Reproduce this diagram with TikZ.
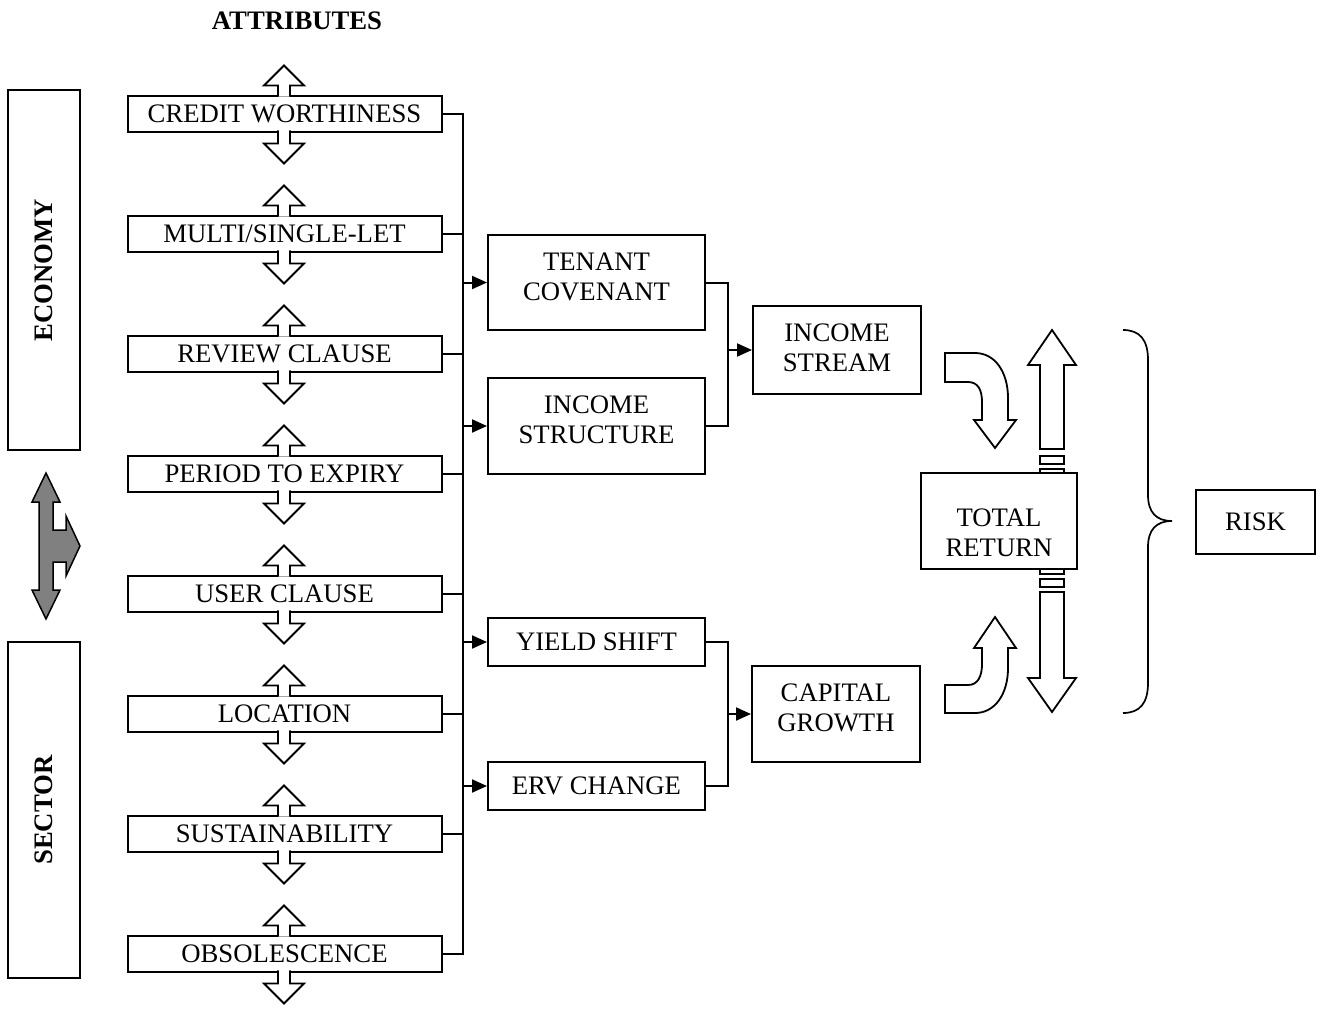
\documentclass[tikz,border=0pt]{standalone}
\usepackage{fontspec}
\setmainfont{Liberation Serif}
\usetikzlibrary{arrows.meta}
\newcommand\myfs{\fontsize{26.7}{30}\selectfont}
\definecolor{arrowgrey}{RGB}{128,128,128}
\begin{document}
\begin{tikzpicture}[x=1pt,y=-1pt,
  every node/.style={font=\myfs},
  box/.style={draw, line width=2pt, fill=white, inner sep=0pt, align=center},
  attr/.style={box, minimum width=314pt, minimum height=36pt},
  mid/.style={box, minimum width=217pt},
  side/.style={draw, line width=2pt, rotate=90, font=\myfs\bfseries, minimum height=72pt, inner sep=0pt},
  conn/.style={line width=2pt},
  arr/.style={conn, -{Triangle[length=15pt,width=13pt]}},
  hol/.style={draw, line width=1.8pt, fill=white, line join=miter}]
\useasboundingbox (0,0) rectangle (1319,1012);

\node[font=\myfs\bfseries] (attrtitle) at (297,21) {ATTRIBUTES};

\node[side, minimum width=360pt] (eco) at (44,270) {ECONOMY};
\node[side, minimum width=336pt] (sec) at (43.5,810) {SECTOR};

% grey double arrow
\draw[line width=1.5pt, fill=arrowgrey, line join=miter]
  (46,473) -- (60,502) -- (53,502) -- (53,530) -- (66,530) -- (66,516) -- (80,546)
  -- (66,576) -- (66,562) -- (53,562) -- (53,590) -- (60,590) -- (46,619)
  -- (32,590) -- (39,590) -- (39,502) -- (32,502) -- cycle;

% attribute boxes with hollow up/down arrows
\foreach \t [count=\i] in {CREDIT WORTHINESS, MULTI/SINGLE-LET, REVIEW CLAUSE, PERIOD TO EXPIRY, USER CLAUSE, LOCATION, SUSTAINABILITY, OBSOLESCENCE} {
  \pgfmathsetmacro\cy{113.5+120*(\i-1)}
  \node[attr] (a\i) at (284.5,\cy) {\t};
  \draw[hol] (278,\cy-16.8) -- (278,\cy-28) -- (264,\cy-28) -- (284,\cy-48) -- (304,\cy-28) -- (290,\cy-28) -- (290,\cy-16.8);
  \draw[hol] (278,\cy+16.8) -- (278,\cy+30) -- (264,\cy+30) -- (284,\cy+50) -- (304,\cy+30) -- (290,\cy+30) -- (290,\cy+16.8);
}

\coordinate (bus) at (463,0);
\coordinate (bus2) at (728,0);

\node[mid, minimum height=95pt] (tc) at (596.5,282.5) {TENANT\\COVENANT\rule[-12pt]{0pt}{12pt}};
\node[mid, minimum height=96pt] (is) at (596.5,426) {INCOME\\STRUCTURE\rule[-12pt]{0pt}{12pt}};
\node[mid, minimum height=48pt] (ys) at (596.5,642) {YIELD SHIFT};
\node[mid, minimum height=48pt] (erv) at (596.5,786) {ERV CHANGE};
\node[box, minimum width=168pt, minimum height=88pt] (incs) at (837,350) {INCOME\\STREAM\rule[-4pt]{0pt}{4pt}};
\node[box, minimum width=168pt, minimum height=96pt] (cg) at (836,714) {CAPITAL\\GROWTH\rule[-13pt]{0pt}{13pt}};

% bus connectors
\draw[conn] (a1.east) -| (bus |- a8.east) -- (a8.east);
\foreach \i in {2,...,7} \draw[conn] (a\i.east) -- (bus |- a\i.east);
\draw[arr] (bus |- tc.west) -- (tc.west);
\draw[arr] (bus |- is.west) -- (is.west);
\draw[arr] (bus |- ys.west) -- (ys.west);
\draw[arr] (bus |- erv.west) -- (erv.west);

\draw[conn] (tc.east) -| (bus2 |- is.east) -- (is.east);
\draw[arr] (bus2 |- incs.west) -- (incs.west);
\draw[conn] (ys.east) -| (bus2 |- erv.east) -- (erv.east);
\draw[arr] (bus2 |- cg.west) -- (cg.west);

% curved hollow arrows
\draw[hol] (945,353) -- (975,353) .. controls (995,353) and (1008,372) .. (1008,398)
  -- (1008,420) -- (1016,420) -- (995,448) -- (974,420) -- (982,420) -- (982,402)
  .. controls (982,390) and (978,382) .. (968,382) -- (945,382) -- cycle;
\draw[hol] (945,713) -- (975,713) .. controls (995,713) and (1008,694) .. (1008,668)
  -- (1008,648) -- (1016,648) -- (995,617) -- (974,648) -- (982,648) -- (982,664)
  .. controls (982,676) and (978,685) .. (968,685) -- (945,685) -- cycle;

% vertical hollow arrows around total return
\draw[hol] (1040,449) -- (1040,365) -- (1028,365) -- (1052,330) -- (1076,365) -- (1064,365) -- (1064,449) -- cycle;
\draw[hol] (1040,456) rectangle (1064,464);
\draw[hol] (1040,469) rectangle (1064,480);
\draw[hol] (1040,562) rectangle (1064,574);
\draw[hol] (1040,579) rectangle (1064,587);
\draw[hol] (1040,592) -- (1040,678) -- (1028,678) -- (1052,712) -- (1076,678) -- (1064,678) -- (1064,592) -- cycle;

\node[box, minimum width=156pt, minimum height=96pt] (tr) at (999,521) {\rule{0pt}{41pt}TOTAL\\RETURN};

% brace
\draw[line width=1.7pt] (1123,330) .. controls (1140,330) and (1148,340) .. (1148,360)
  -- (1148,495) .. controls (1148,512) and (1156,521) .. (1172,521)
  .. controls (1156,521) and (1148,530) .. (1148,547)
  -- (1148,683) .. controls (1148,703) and (1140,713) .. (1123,713);

\node[box, minimum width=119pt, minimum height=64pt] (risk) at (1255.5,522) {RISK};
\end{tikzpicture}
\end{document}
